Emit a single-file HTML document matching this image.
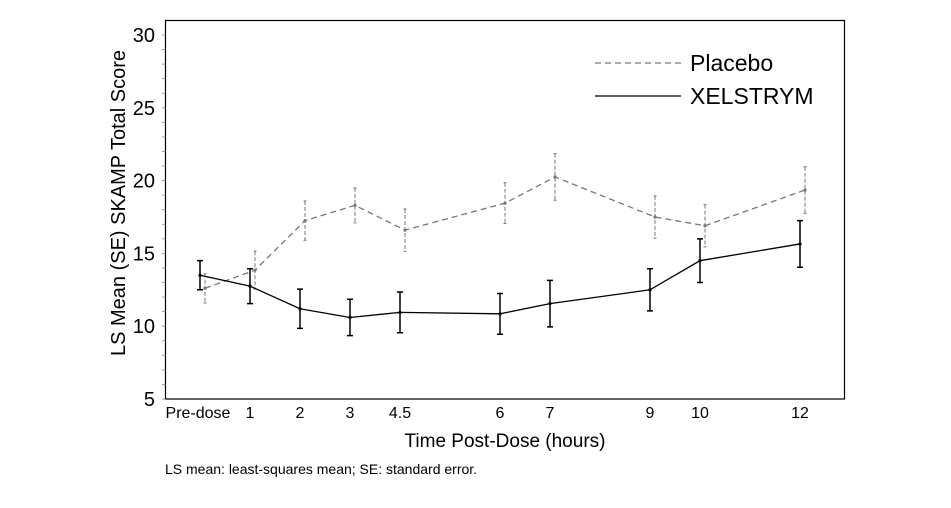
<!DOCTYPE html>
<html><head><meta charset="utf-8"><style>
html,body{margin:0;padding:0;background:#fff;}
svg{display:block;font-family:"Liberation Sans","DejaVu Sans",sans-serif;}
</style></head><body>
<svg id="chart" width="951" height="508" viewBox="0 0 951 508" xmlns="http://www.w3.org/2000/svg">
<rect x="0" y="0" width="951" height="508" fill="#fff"/>
<rect x="165.5" y="20.5" width="679" height="378.5" fill="none" stroke="#000" stroke-width="1.2"/>
<g id="yaxis"></g>
<g id="xaxis"></g>
<g id="series"></g>
<text transform="translate(125,203) rotate(-90)" text-anchor="middle" font-size="20">LS Mean (SE) SKAMP Total Score</text>
<text x="505" y="447" text-anchor="middle" font-size="19">Time Post-Dose (hours)</text>
<text x="165" y="474" font-size="14">LS mean: least-squares mean; SE: standard error.</text>
<g>
<line x1="595" y1="63" x2="681" y2="63" stroke="#777" stroke-width="1.3" stroke-dasharray="6,4"/>
<text x="690" y="71" font-size="23">Placebo</text>
<line x1="595" y1="96" x2="681" y2="96" stroke="#000" stroke-width="1.3"/>
<text x="690" y="104" font-size="23">XELSTRYM</text>
</g>
</svg>
<script>
const categories = ["Pre-dose","1","2","3","4.5","6","7","9","10","12"];
const slots = [0,1,2,3,4,6,7,9,10,12];
const yTicks = [5,10,15,20,25,30];
const xelMean = [13.5,12.75,11.2,10.6,10.95,10.85,11.55,12.5,14.5,15.65];
const xelSE = [1.0,1.2,1.35,1.25,1.4,1.4,1.6,1.45,1.5,1.6];
const pboMean = [12.6,13.85,17.25,18.3,16.6,18.45,20.25,17.5,16.9,19.35];
const pboSE = [1.0,1.3,1.35,1.2,1.45,1.4,1.6,1.45,1.45,1.6];

const NS="http://www.w3.org/2000/svg";
const sx = s => 200 + s*50;
const sy = v => 399 - (v-5)*14.56;
function mk(tag, attrs, parent){const e=document.createElementNS(NS,tag);for(const k in attrs)e.setAttribute(k,attrs[k]);parent.appendChild(e);return e;}
const ya=document.getElementById('yaxis'), xa=document.getElementById('xaxis'), sg=document.getElementById('series');
for(let v=5; v<=30; v++){
  const t=mk('line',{x1:162,x2:165.5,y1:sy(v),y2:sy(v),stroke:'#888','stroke-width':0.8},ya);
  
  
}
yTicks.forEach(v=>{
  const t=mk('text',{x:155,y:sy(v)+7,'text-anchor':'end','font-size':20},ya);
  t.textContent=v;
  
  
});
categories.forEach((c,i)=>{
  const x = i===0 ? 198 : sx(slots[i]);
  const t=mk('text',{x:x,y:418,'text-anchor':'middle','font-size':16},xa);
  t.textContent=c;
  
  
});
function drawSeries(mean,se,off,color,dash,name,w,ew){
  const g=mk('g',{},sg);
  
  
  const pts=mean.map((m,i)=>(sx(slots[i])+off)+','+sy(m)).join(' ');
  const pl=mk('polyline',{points:pts,fill:'none',stroke:color,'stroke-width':1.3,'stroke-dasharray':dash},g);
  
  
  mean.forEach((m,i)=>{
    const x=sx(slots[i])+off, y1=sy(m+se[i]), y2=sy(m-se[i]);
    const e=mk('path',{d:`M${x},${y1}V${y2}M${x-w},${y1}H${x+w}M${x-w},${y2}H${x+w}`,stroke:color,'stroke-width':ew,fill:'none','stroke-dasharray':dash?'4,2':''},g);
    
    
    const p=mk('circle',{cx:x,cy:sy(m),r:1.6,fill:color},g);
    
    
  });
}
drawSeries(pboMean,pboSE,5,'#777','6,4','placebo',1.5,1);
drawSeries(xelMean,xelSE,0,'#000','','xelstrym',3,1.5);
</script>
</body></html>
